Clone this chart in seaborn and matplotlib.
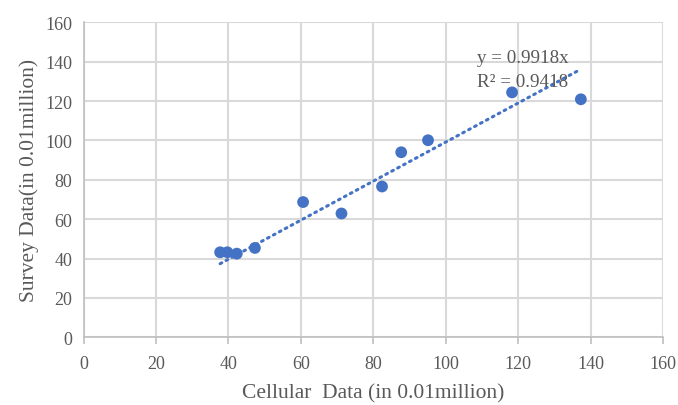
import matplotlib
matplotlib.use("Agg")
import matplotlib.pyplot as plt
import seaborn as sns
import numpy as np
import pandas as pd

cellular = [37.7, 39.7, 42.3, 47.3, 60.6, 71.2, 82.4, 87.7, 95.1, 118.3, 137.3]
survey = [43.2, 43.2, 42.5, 45.4, 68.7, 62.9, 76.6, 94.0, 100.1, 124.4, 120.9]
slope = 0.9918
r2 = 0.9418
ticks = [0, 20, 40, 60, 80, 100, 120, 140, 160]

sns.set_style("white")
plt.rcParams['font.family'] = ['Liberation Serif', 'DejaVu Serif']

df = pd.DataFrame({"x": cellular, "y": survey})
fig = plt.figure(figsize=(6.78, 4.06), dpi=100)
ax = fig.add_axes([0.1233, 0.1667, 0.978 - 0.1233, 0.9426 - 0.1667])

txt = "#595959"
grid = "#d9d9d9"

xs = np.array([min(cellular), max(cellular)])
ax.plot(xs, slope * xs, linestyle=(0, (0.6, 1.6)), color="#4472C4", lw=2.2,
        dash_capstyle="round", zorder=2)
sns.scatterplot(data=df, x="x", y="y", ax=ax, color="#4472C4", s=72,
                edgecolor="none", zorder=3)

ax.set_xlim(0, 160)
ax.set_ylim(0, 160)
ax.set_xticks(ticks)
ax.set_yticks(ticks)
ax.grid(True, color=grid, lw=1.5)
ax.set_axisbelow(True)
for s in ["top", "right"]:
    ax.spines[s].set_visible(False)
for s in ["left", "bottom"]:
    ax.spines[s].set_color("#bfbfbf")
    ax.spines[s].set_linewidth(1.2)
ax.tick_params(axis="x", length=5, width=1.2, color="#bfbfbf", labelsize=13,
               labelcolor=txt, pad=8, direction="out", bottom=True)
ax.tick_params(axis="y", length=0, labelsize=13, labelcolor=txt, pad=8)

ax.set_xlabel("Cellular  Data (in 0.01million)", fontsize=15.5, color=txt, labelpad=8)
ax.set_ylabel("Survey Data(in 0.01million)", fontsize=15.5, color=txt, labelpad=5)

ax.text(108.6, 142.3, "y = 0.9918x", fontsize=13.7, color=txt, va="center", ha="left")
ax.text(108.6, 130.0, "R² = 0.9418", fontsize=13.7, color=txt, va="center", ha="left")

fig.savefig("out.png", dpi=100)
